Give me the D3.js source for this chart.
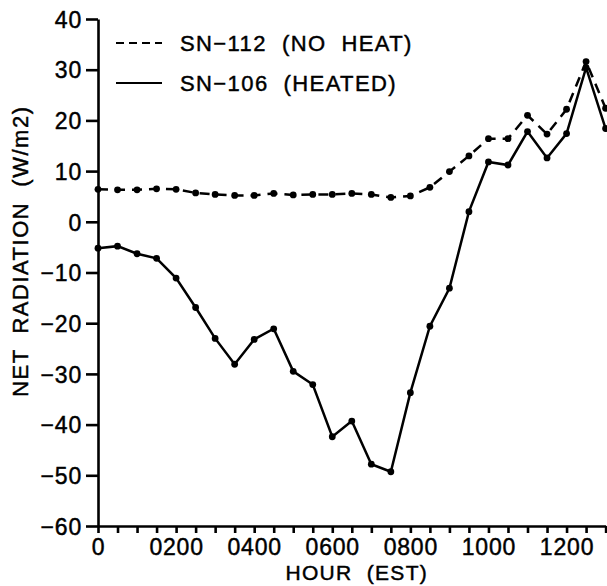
<!DOCTYPE html>
<html>
<head>
<meta charset="utf-8">
<script src="https://cdn.jsdelivr.net/npm/d3@7"></script>
<style>
  body { margin: 0; background: #fff; }
  svg { display: block; font-family: "Liberation Sans", Arial, sans-serif; }
  text { white-space: pre; fill: #000; stroke: #000; stroke-width: 0.45; }
  .axis path, .axis line { stroke: #000; stroke-width: 2.6; }
  .axis text { font-size: 23px; letter-spacing: 0.8px; }
  .label { font-size: 22px; letter-spacing: 1px; }
  .x-label { font-size: 21px; letter-spacing: 1.3px; }
  .y-label { letter-spacing: 1.5px; }
  .legend text { font-size: 22px; letter-spacing: 1.4px; }
</style>
</head>
<body>
<svg id="chart"></svg>
<script>
// half-hourly samples, hours since midnight (EST)
const hours = [0, 0.5, 1, 1.5, 2, 2.5, 3, 3.5, 4, 4.5, 5, 5.5, 6, 6.5, 7, 7.5,
  8, 8.5, 9, 9.5, 10, 10.5, 11, 11.5, 12, 12.5, 13];
const noHeat = [6.4, 6.3, 6.3, 6.5, 6.4, 5.7, 5.4, 5.2, 5.2, 5.6, 5.3, 5.4, 5.4, 5.6,
  5.4, 4.8, 5.1, 6.8, 9.9, 13.0, 16.4, 16.4, 21.0, 17.3, 22.2, 31.6, 22.4];
const heated = [-5.2, -4.8, -6.3, -7.2, -11.1, -16.9, -23.0, -28.1, -23.2, -21.1, -29.5,
  -32.1, -42.4, -39.3, -47.8, -49.3, -33.7, -20.6, -13.1, 2.0, 11.8, 11.2, 17.8, 12.6,
  17.4, 30.4, 18.4];
const yTicks = [-60, -50, -40, -30, -20, -10, 0, 10, 20, 30, 40];
const xTickLabels = { 0: "0", 2: "0200", 4: "0400", 6: "0600", 8: "0800", 10: "1000", 12: "1200" };
const seriesNames = ["SN\u2212112  (NO  HEAT)", "SN\u2212106  (HEATED)"];

const chartSize = { width: 607, height: 586 };
const margin = { left: 98, right: 1.4, top: 19, bottom: 60 };
const width = chartSize.width - margin.left - margin.right;
const height = chartSize.height - margin.top - margin.bottom;

const svg = d3.select("#chart")
  .attr("width", chartSize.width)
  .attr("height", chartSize.height);

const g = svg.append("g")
  .attr("transform", `translate(${margin.left},${margin.top})`);

const x = d3.scaleLinear().domain([0, 13]).range([0, width]);
const y = d3.scaleLinear().domain([-60, 40]).range([height, 0]);

const xAxis = d3.axisBottom(x)
  .tickValues(d3.range(0, 13.01, 0.5))
  .tickSize(7)
  .tickSizeOuter(0)
  .tickPadding(6)
  .tickFormat(d => xTickLabels[d] || "");

const yAxis = d3.axisLeft(y)
  .tickValues(yTicks)
  .tickSize(12)
  .tickSizeOuter(0)
  .tickPadding(4)
  .tickFormat(d => d < 0 ? "\u2212" + Math.abs(d) : String(d));

g.append("g")
  .attr("class", "axis x-axis")
  .attr("transform", `translate(0,${height})`)
  .call(xAxis);

g.append("g")
  .attr("class", "axis y-axis")
  .call(yAxis);

g.selectAll(".y-axis text").attr("dy", "0.36em");

// axis titles
g.append("text")
  .attr("class", "x-label")
  .attr("x", x(6.5) + 5)
  .attr("y", height + 54)
  .attr("text-anchor", "middle")
  .text("HOUR  (EST)");

g.append("text")
  .attr("class", "label y-label")
  .attr("transform", "rotate(-90)")
  .attr("x", -y(-5.8))
  .attr("y", -70)
  .attr("text-anchor", "middle")
  .text("NET  RADIATION  (W/m2)");

// series
const line = d3.line()
  .x((d, i) => x(hours[i]))
  .y(d => y(d));

const series = [
  { name: seriesNames[0], values: noHeat, dash: "10,7" },
  { name: seriesNames[1], values: heated, dash: null }
];

series.forEach(s => {
  g.append("path")
    .attr("d", line(s.values))
    .attr("fill", "none")
    .attr("stroke", "#000")
    .attr("stroke-width", 2.5)
    .attr("stroke-dasharray", s.dash);

  g.selectAll(null)
    .data(s.values)
    .enter()
    .append("circle")
    .attr("cx", (d, i) => x(hours[i]))
    .attr("cy", d => y(d))
    .attr("r", 3.4)
    .attr("fill", "#000");
});

// legend
const legend = svg.append("g").attr("class", "legend");
series.forEach((s, i) => {
  const ly = 43 + i * 40;
  legend.append("line")
    .attr("x1", 116).attr("x2", 162)
    .attr("y1", ly).attr("y2", ly)
    .attr("stroke", "#000")
    .attr("stroke-width", 2.2)
    .attr("stroke-dasharray", s.dash ? "8,5" : null);
  legend.append("text")
    .attr("x", 180)
    .attr("y", ly)
    .attr("dy", "0.36em")
    .text(s.name);
});
</script>
</body>
</html>
